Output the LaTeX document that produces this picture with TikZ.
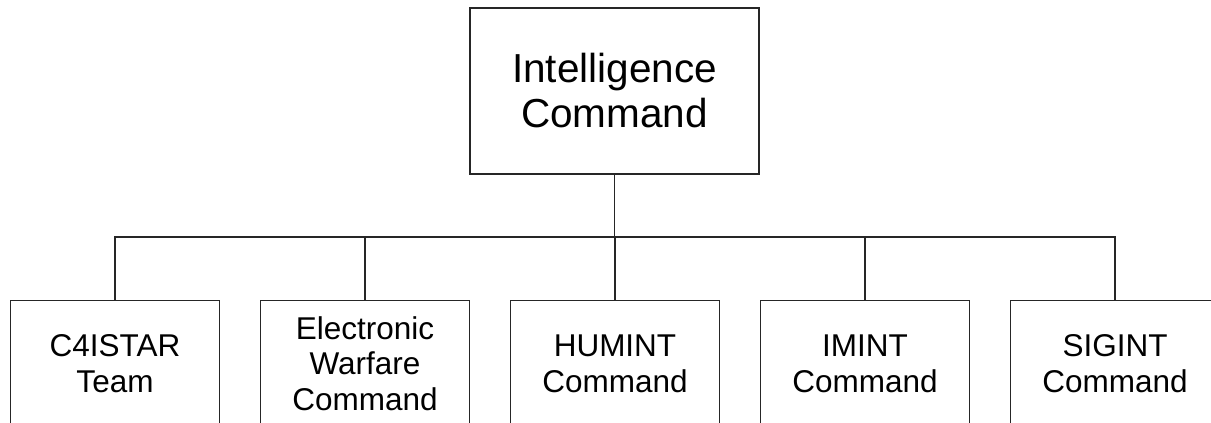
\documentclass[tikz,border=0pt]{standalone}
\usepackage{fontspec}
\setmainfont{Liberation Sans}
\begin{document}
\begin{tikzpicture}[x=1pt,y=-1pt,
  line width=1.3pt, draw=black!85,
  headbox/.style={draw, rectangle, minimum width=289pt, minimum height=166pt,
    align=center, font=\fontsize{40.5}{45}\selectfont, inner sep=0pt},
  unitbox/.style={draw, rectangle, minimum width=209pt, minimum height=126pt,
    anchor=north, align=center, font=\fontsize{31.5}{35.5}\selectfont, inner sep=0pt},
  link/.style={draw=black!85, line width=1.3pt}]
  \useasboundingbox (0,0) rectangle (1211,423);
  \clip (0,0) rectangle (1211,423);
  \fill[white] (0,0) rectangle (1211,423);

  % head of the command
  \node[headbox] (top) at (614.5,91) {Intelligence\\Command};

  % subordinate units
  \node[unitbox] (c4) at (115,300) {C4ISTAR\\Team};
  \node[unitbox] (ew) at (365,300) {Electronic\\Warfare\\Command};
  \node[unitbox] (hu) at (615,300) {HUMINT\\Command};
  \node[unitbox] (im) at (865,300) {IMINT\\Command};
  \node[unitbox] (si) at (1115,300) {SIGINT\\Command};

  % bus connecting the units to the head
  \coordinate (bus) at (614,237);
  \draw[link] (top.south) -- (top.south |- bus);
  \draw[link] (c4.north) -- (c4.north |- bus) -- (si.north |- bus) -- (si.north);
  \draw[link] (ew.north) -- (ew.north |- bus);
  \draw[link] (hu.north) -- (hu.north |- bus);
  \draw[link] (im.north) -- (im.north |- bus);
\end{tikzpicture}
\end{document}
